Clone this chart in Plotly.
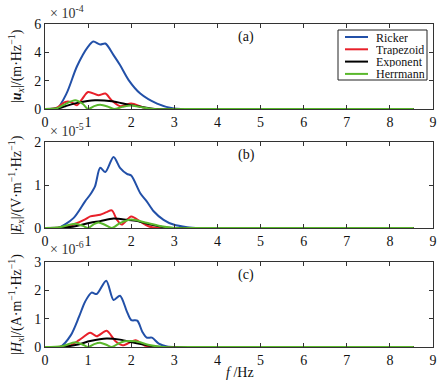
import plotly.graph_objects as go

# ---------------- data ----------------
tail_f = [3.6, 4.5, 5.5, 6.5, 7.5, 8.55]
tail_v = [0, 0, 0, 0, 0, 0]

# Panel (a): |u_x|, units 1e-4 m/Hz
a_ricker_f = [0, 0.27, 0.5, 0.74, 1.0, 1.12, 1.28, 1.40, 1.59, 1.74, 1.94, 2.21, 2.6, 2.99, 3.2]
a_ricker_v = [0, 0.0, 1.1, 3.0, 4.4, 4.76, 4.55, 4.62, 3.8, 3.1, 2.04, 1.09, 0.38, 0.03, 0]
a_trap_f = [0, 0.25, 0.47, 0.6, 0.74, 0.86, 1.0, 1.24, 1.40, 1.55, 1.74, 2.0, 2.25, 2.45]
a_trap_v = [0, 0.05, 0.5, 0.5, 0.26, 0.7, 1.2, 0.97, 1.09, 0.6, 0.2, 0.38, 0.14, 0]
a_exp_f = [0, 0.3, 0.47, 0.77, 1.16, 1.55, 1.94, 2.25, 2.55]
a_exp_v = [0, 0.05, 0.2, 0.45, 0.62, 0.55, 0.31, 0.14, 0]
a_her_f = [0, 0.3, 0.5, 0.7, 0.88, 1.0, 1.14, 1.28, 1.45, 1.6, 1.8, 2.0, 2.25, 2.5]
a_her_v = [0, 0.08, 0.4, 0.62, 0.35, 0.0, 0.2, 0.3, 0.18, 0.0, 0.15, 0.25, 0.12, 0]

# Panel (b): |E_x|, units 1e-5 V/(m*Hz)
b_ricker_f = [0, 0.3, 0.66, 0.93, 1.05, 1.16, 1.28, 1.40, 1.59, 1.74, 1.9, 2.0, 2.21, 2.36, 2.52, 2.75, 2.98, 3.3, 3.6]
b_ricker_v = [0, 0.0, 0.23, 0.62, 0.78, 0.97, 1.4, 1.30, 1.65, 1.40, 1.26, 1.22, 0.81, 0.62, 0.39, 0.19, 0.08, 0.02, 0]
b_trap_f = [0, 0.4, 0.66, 0.93, 1.05, 1.28, 1.43, 1.55, 1.67, 1.78, 2.0, 2.21, 2.4, 2.6]
b_trap_v = [0, 0.01, 0.08, 0.2, 0.27, 0.31, 0.37, 0.41, 0.19, 0.08, 0.27, 0.15, 0.04, 0]
b_exp_f = [0, 0.45, 0.7, 1.05, 1.28, 1.59, 1.9, 2.14, 2.45, 2.75, 3.0]
b_exp_v = [0, 0.01, 0.04, 0.12, 0.16, 0.22, 0.19, 0.16, 0.08, 0.02, 0]
b_her_f = [0, 0.35, 0.7, 0.88, 1.0, 1.12, 1.24, 1.4, 1.55, 1.75, 2.0, 2.36, 2.7, 3.0]
b_her_v = [0, 0.02, 0.1, 0.05, 0.0, 0.08, 0.13, 0.07, 0.0, 0.12, 0.2, 0.12, 0.04, 0]

# Panel (c): |H_x|, units 1e-6 A/(m*Hz)
c_ricker_f = [0, 0.35, 0.6, 0.79, 0.93, 1.08, 1.2, 1.42, 1.59, 1.74, 1.9, 2.0, 2.14, 2.26, 2.36, 2.48, 2.64, 2.83, 3.1]
c_ricker_v = [0, 0.0, 0.42, 1.07, 1.6, 1.92, 1.87, 2.34, 1.66, 1.81, 1.25, 0.95, 0.93, 0.53, 0.33, 0.33, 0.12, 0.02, 0]
c_trap_f = [0, 0.4, 0.6, 0.79, 1.05, 1.2, 1.43, 1.63, 1.8, 2.1, 2.3, 2.5]
c_trap_v = [0, 0.01, 0.06, 0.24, 0.5, 0.38, 0.57, 0.21, 0.06, 0.24, 0.06, 0]
c_exp_f = [0, 0.5, 0.79, 1.05, 1.43, 1.74, 2.1, 2.45, 2.7]
c_exp_v = [0, 0.02, 0.1, 0.21, 0.3, 0.26, 0.14, 0.04, 0]
c_her_f = [0, 0.4, 0.7, 0.88, 1.0, 1.14, 1.28, 1.42, 1.55, 1.7, 1.85, 2.1, 2.45, 2.75]
c_her_v = [0, 0.03, 0.17, 0.08, 0.0, 0.1, 0.15, 0.08, 0.0, 0.12, 0.2, 0.2, 0.06, 0]

series_names = ["Ricker", "Trapezoid", "Exponent", "Herrmann"]
x_ticks = [0, 1, 2, 3, 4, 5, 6, 7, 8, 9]
a_yticks = [0, 2, 4, 6]
b_yticks = [0, 1, 2]
c_yticks = [0, 1, 2, 3]

# ---------------- styling ----------------
colors = ["#2250a8", "#e8202a", "#000000", "#5ab82c"]
FONT = "Liberation Serif, Times New Roman, serif"

# plot-area geometry in pixels
L, R, T, B = 45, 433, 24, 347
W, H = 444, 383
PW, PH = R - L, B - T


def px(xp):
    return (xp - L) / PW


def py(yp):
    return (B - yp) / PH


panels = [
    ("x", "y", [(a_ricker_f, a_ricker_v), (a_trap_f, a_trap_v), (a_exp_f, a_exp_v), (a_her_f, a_her_v)]),
    ("x2", "y2", [(b_ricker_f, b_ricker_v), (b_trap_f, b_trap_v), (b_exp_f, b_exp_v), (b_her_f, b_her_v)]),
    ("x3", "y3", [(c_ricker_f, c_ricker_v), (c_trap_f, c_trap_v), (c_exp_f, c_exp_v), (c_her_f, c_her_v)]),
]

fig = go.Figure()
for pi, (xa, ya, data) in enumerate(panels):
    for si, (f, v) in enumerate(data):
        fig.add_trace(go.Scatter(
            x=list(f) + tail_f, y=list(v) + tail_v, xaxis=xa, yaxis=ya,
            mode="lines", name=series_names[si],
            line=dict(color=colors[si], width=2, shape="spline", smoothing=0.8),
            showlegend=False, hoverinfo="skip",
        ))

axis_common = dict(
    showline=True, linecolor="#333333", linewidth=1, mirror="ticks",
    ticks="inside", ticklen=4, tickcolor="#333333", showgrid=False, zeroline=False,
    tickfont=dict(family=FONT, size=14, color="#111111"), automargin=False,
)

doms = [[py(109), 1.0], [py(228), py(142)], [0.0, py(262)]]
yt = [a_yticks, b_yticks, c_yticks]
yr = [[0, 6], [0, 2], [0, 3]]
layout = dict(
    template="none",
    width=W, height=H,
    margin=dict(l=L, r=W - R, t=T, b=H - B, pad=0),
    paper_bgcolor="white", plot_bgcolor="white",
    font=dict(family=FONT, size=13, color="#111111"),
    showlegend=False,
)
for i in range(3):
    sx = "xaxis" if i == 0 else f"xaxis{i+1}"
    sy = "yaxis" if i == 0 else f"yaxis{i+1}"
    layout[sx] = dict(axis_common, range=[0, 9], tickvals=x_ticks, domain=[0, 1],
                      anchor="y" if i == 0 else f"y{i+1}")
    layout[sy] = dict(axis_common, range=yr[i], tickvals=yt[i], domain=doms[i],
                      anchor="x" if i == 0 else f"x{i+1}")
fig.update_layout(**layout)

ann = []
shapes = []
# exponents
for txt, yp in [("× 10<sup>-4</sup>", 12), ("× 10<sup>-5</sup>", 130), ("× 10<sup>-6</sup>", 248)]:
    ann.append(dict(text=txt, xref="paper", yref="paper", x=px(48), y=py(yp),
                    xanchor="left", yanchor="middle", showarrow=False,
                    font=dict(family=FONT, size=14, color="#333333")))
# panel labels
for txt, yp in [("(a)", 37), ("(b)", 155), ("(c)", 275)]:
    ann.append(dict(text=txt, xref="paper", yref="paper", x=px(236), y=py(yp),
                    xanchor="left", yanchor="middle", showarrow=False,
                    font=dict(family=FONT, size=14, color="#111111")))
# y titles
ytitles = [
    ("|<b><i>u</i></b><sub><i>x</i></sub>|/(m·Hz<sup>−1</sup>)", 66),
    ("|<i>E</i><sub><i>x</i></sub>|/(V·m<sup>−1</sup>·Hz<sup>−1</sup>)", 185),
    ("|<i>H</i><sub><i>x</i></sub>|/(A·m<sup>−1</sup>·Hz<sup>−1</sup>)", 305),
]
for txt, yp in ytitles:
    ann.append(dict(text=txt, xref="paper", yref="paper", x=px(16), y=py(yp),
                    xanchor="center", yanchor="middle", textangle=-90, showarrow=False,
                    font=dict(family=FONT, size=14, color="#111111")))
ann.append(dict(text="<i>f</i> /Hz", xref="paper", yref="paper", x=px(240), y=py(372),
                xanchor="center", yanchor="middle", showarrow=False,
                font=dict(family=FONT, size=14, color="#111111")))

# manual legend (box + line samples + labels)
shapes.append(dict(type="rect", xref="paper", yref="paper", x0=px(338), x1=px(427),
                   y0=py(80), y1=py(30), line=dict(color="#222222", width=1),
                   fillcolor="white", layer="above"))
for si, name in enumerate(series_names):
    yy = 37 + si * 12.3
    shapes.append(dict(type="line", xref="paper", yref="paper", x0=px(345), x1=px(368),
                       y0=py(yy), y1=py(yy), line=dict(color=colors[si], width=2), layer="above"))
    ann.append(dict(text=name, xref="paper", yref="paper", x=px(374), y=py(yy),
                    xanchor="left", yanchor="middle", showarrow=False, height=11,
                    font=dict(family=FONT, size=12, color="#111111")))
fig.update_layout(annotations=ann, shapes=shapes)

fig.write_html("out.html", config={"displayModeBar": False, "staticPlot": True},
               post_script="document.body.style.margin='0';document.body.style.overflow='hidden';")
